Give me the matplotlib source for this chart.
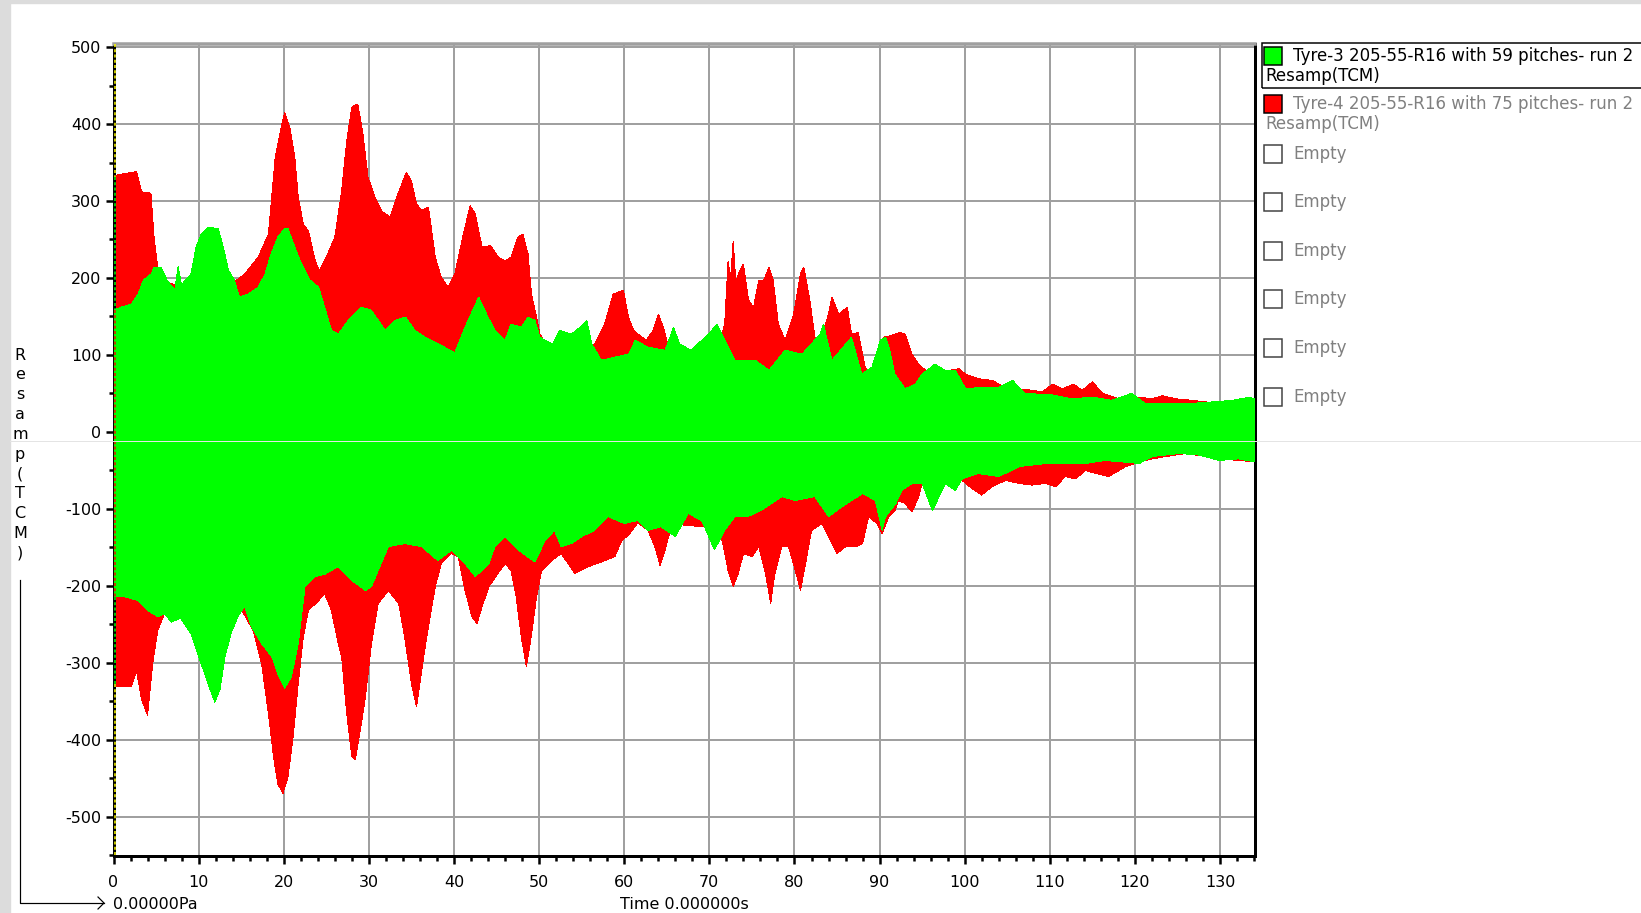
import matplotlib
matplotlib.use("Agg")
import matplotlib.pyplot as plt
from matplotlib.patches import Rectangle
from matplotlib.lines import Line2D
from matplotlib.ticker import MultipleLocator

plt.rcParams["font.family"] = "DejaVu Sans"
plt.rcParams["axes.unicode_minus"] = False

# envelope of tyre 4 (red), top and bottom, time in s
red_top_t = [0.0, 0.1, 1.5, 2.7, 3.3, 4.4, 4.8, 5.2, 5.6, 8.0, 12.0, 14.2, 15.4, 17.0, 18.2, 19.0,
             19.7, 20.1, 20.7, 21.3, 21.7, 22.3, 22.9, 23.7, 24.2, 25.0, 26.0, 26.8, 27.4, 28.0,
             28.7, 29.3, 29.9, 30.7, 31.5, 32.5, 33.4, 34.4, 35.0, 35.6, 36.2, 37.0, 37.8, 38.5,
             39.3, 40.1, 41.1, 41.9, 42.5, 43.3, 44.3, 45.2, 46.0, 46.7, 47.5, 48.1, 48.7, 49.1,
             49.7, 50.1, 51.0, 54.0, 56.5, 57.7, 58.7, 59.9, 60.5, 61.1, 61.6, 62.6, 63.4, 64.0,
             64.6, 65.2, 66.0, 71.0, 71.8, 72.2, 72.5, 72.8, 73.1, 73.4, 74.0, 74.6, 75.2, 75.8,
             76.4, 77.0, 77.5, 78.1, 78.9, 79.9, 80.7, 81.1, 81.8, 82.4, 83.0, 83.4, 84.0, 84.4,
             85.2, 86.2, 86.7, 87.5, 88.3, 89.1, 89.9, 90.5, 91.3, 92.4, 93.0, 93.8, 94.6, 95.4,
             97.0, 99.3, 100.1, 101.6, 103.2, 104.4, 106.4, 107.9, 109.1, 110.3, 111.5, 112.8,
             113.8, 115.0, 116.2, 118.1, 120.5, 122.0, 123.2, 124.8, 126.7, 128.3, 130.0, 131.8,
             134.1]
red_top = [331, 333, 336, 338, 312, 310, 248, 214, 195, 190, 192, 195, 205, 227, 257, 357,
           396, 415, 396, 357, 305, 270, 261, 222, 209, 227, 253, 313, 378, 422,
           426, 387, 331, 305, 287, 279, 309, 337, 326, 296, 288, 292, 227, 201,
           188, 205, 257, 294, 283, 240, 242, 227, 222, 227, 253, 257, 231, 179,
           149, 127, 110, 110, 114, 140, 179, 184, 149, 132, 127, 119, 132, 153,
           136, 110, 100, 105, 140, 222, 200, 248, 195, 205, 218, 171, 162, 197,
           197, 214, 197, 140, 119, 153, 205, 214, 171, 123, 114, 132, 153, 175,
           153, 162, 127, 129, 84, 70, 101, 123, 125, 129, 127, 101, 88, 80,
           78, 82, 75, 69, 67, 60, 56, 54, 52, 62, 56, 62,
           54, 65, 50, 43, 45, 43, 47, 43, 41, 39, 36, 38,
           38]
red_bot_t = [0.0, 0.3, 2.1, 2.7, 3.3, 4.0, 4.6, 5.2, 6.0, 8.0, 12.0, 14.6, 15.2, 16.4, 17.4,
             18.2, 18.8, 19.3, 19.9, 20.5, 21.1, 21.7, 22.3, 22.9, 24.1, 24.8, 25.6, 26.4, 26.8,
             27.4, 28.0, 28.4, 29.0, 29.6, 30.3, 31.1, 32.3, 33.5, 34.2, 35.0, 35.6, 36.2, 36.8,
             37.8, 38.5, 39.7, 40.5, 41.3, 42.1, 42.7, 43.3, 44.1, 44.9, 46.0, 46.7, 47.3, 47.9,
             48.5, 49.1, 49.7, 50.3, 51.5, 52.6, 53.4, 54.2, 55.8, 57.3, 58.9, 59.7, 60.5, 61.6,
             62.8, 63.6, 64.2, 64.8, 65.2, 66.0, 71.0, 71.5, 72.2, 72.8, 73.4, 74.0, 75.0, 75.8,
             76.6, 77.2, 77.7, 78.5, 79.3, 80.1, 80.7, 81.3, 82.0, 83.2, 84.0, 85.0, 86.0, 87.2,
             88.0, 88.7, 89.7, 90.3, 91.1, 91.8, 92.2, 93.0, 93.8, 94.6, 95.0, 96.2, 99.7, 100.9,
             102.0, 103.2, 104.8, 106.4, 107.9, 109.5, 110.7, 111.8, 113.0, 114.2, 115.4, 116.9,
             118.9, 120.5, 122.0, 123.6, 126.0, 128.3, 129.9, 132.2, 134.1]
red_bot = [-327, -331, -331, -310, -348, -368, -301, -258, -236, -230, -225, -223, -234, -258, -301,
           -366, -422, -457, -470, -448, -396, -327, -266, -232, -219, -210, -232, -275, -292,
           -366, -422, -426, -387, -344, -275, -223, -206, -223, -266, -327, -357, -310, -266,
           -201, -171, -158, -162, -206, -240, -249, -227, -201, -188, -171, -180, -214, -266,
           -305, -264, -214, -180, -167, -158, -171, -184, -175, -169, -162, -141, -134, -118,
           -128, -149, -173, -154, -136, -120, -125, -141, -180, -201, -184, -158, -162, -149,
           -184, -223, -184, -149, -149, -180, -206, -171, -128, -119, -136, -158, -149, -149,
           -145, -110, -119, -132, -110, -102, -89, -93, -104, -84, -67, -60, -63, -74,
           -82, -71, -63, -67, -69, -67, -71, -58, -61, -50, -54, -58,
           -45, -39, -35, -32, -28, -32, -35, -37, -39]

# envelope of tyre 3 (green), top and bottom
green_top_t = [0.0, 0.9, 2.1, 2.9, 3.5, 4.4, 4.8, 5.6, 6.3, 7.2, 7.6, 8.0, 8.4, 9.1, 9.7, 10.3,
               11.1, 12.3, 12.9, 13.5, 14.2, 14.8, 15.8, 17.0, 17.8, 18.5, 19.3, 20.1, 20.5,
               21.3, 22.1, 23.1, 24.1, 24.7, 25.6, 26.4, 27.6, 29.1, 30.3, 31.9, 33.1, 34.3,
               35.4, 36.6, 38.2, 40.1, 41.3, 42.9, 44.0, 44.8, 46.0, 46.7, 47.9, 48.7, 49.5,
               50.1, 50.7, 51.6, 52.4, 53.8, 54.8, 55.6, 56.2, 57.3, 58.9, 60.5, 61.3, 62.8,
               64.8, 65.8, 66.5, 67.9, 69.1, 69.9, 70.9, 71.8, 73.0, 75.4, 77.0, 78.9, 80.9,
               83.0, 83.4, 84.4, 86.7, 87.9, 89.1, 90.1, 90.7, 91.1, 91.8, 93.0, 94.2, 95.0,
               96.5, 97.7, 98.9, 100.1, 102.0, 104.0, 105.6, 107.1, 110.3, 112.6, 115.0, 117.3,
               119.6, 121.2, 124.0, 126.7, 129.1, 131.5, 133.4, 134.1]
green_top = [158, 162, 166, 179, 197, 205, 214, 214, 197, 184, 215, 190, 197, 205, 240, 257,
             266, 264, 240, 210, 197, 175, 179, 188, 205, 231, 253, 264, 264,
             240, 218, 197, 188, 166, 132, 127, 145, 162, 158, 132, 145, 149,
             132, 123, 114, 103, 136, 175, 149, 132, 119, 140, 136, 149, 145,
             123, 119, 114, 132, 127, 136, 145, 114, 93, 97, 101, 119, 110,
             106, 136, 114, 106, 119, 127, 140, 119, 93, 93, 80, 106, 101,
             127, 140, 93, 123, 75, 84, 119, 123, 110, 75, 56, 62, 75,
             88, 80, 80, 56, 58, 58, 67, 50, 48, 43, 45, 41,
             50, 37, 37, 37, 39, 41, 45, 43]
green_bot_t = [0.0, 1.3, 2.9, 4.0, 5.2, 6.0, 6.8, 7.9, 9.1, 10.3, 11.1, 11.9, 12.5, 13.1, 13.8,
               14.6, 15.4, 16.2, 17.4, 18.6, 19.3, 20.1, 20.9, 21.7, 22.5, 23.6, 24.8, 26.4,
               28.0, 29.6, 30.3, 31.1, 32.3, 34.2, 36.2, 38.1, 39.7, 41.3, 42.5, 44.1, 44.8,
               46.0, 47.5, 49.5, 50.7, 51.8, 52.6, 53.8, 55.0, 56.5, 58.1, 60.0, 61.6, 62.8,
               64.3, 66.0, 67.5, 69.1, 70.6, 71.8, 73.0, 74.5, 76.1, 78.5, 80.1, 82.4, 84.0,
               85.6, 88.0, 89.5, 90.3, 90.7, 91.9, 92.6, 93.8, 95.0, 96.2, 97.0, 97.7, 98.9,
               99.7, 101.6, 104.0, 106.4, 109.5, 112.6, 114.2, 116.5, 120.5, 122.0, 125.2,
               127.5, 129.9, 132.2, 134.1]
green_bot = [-214, -214, -219, -232, -240, -236, -247, -242, -262, -301, -327, -351, -335, -292, -262,
             -240, -227, -253, -275, -292, -314, -333, -318, -275, -201, -188, -185, -175,
             -193, -206, -201, -180, -149, -145, -149, -167, -154, -171, -188, -171, -149,
             -136, -153, -169, -141, -128, -149, -145, -136, -128, -110, -119, -115, -128,
             -123, -136, -106, -115, -153, -128, -110, -110, -102, -84, -89, -84, -110,
             -97, -80, -89, -128, -110, -93, -76, -67, -67, -102, -84, -67, -76,
             -61, -54, -58, -45, -41, -41, -41, -37, -41, -32, -28,
             -30, -37, -35, -39]

legend_names = ["Tyre-3 205-55-R16 with 59 pitches- run 2",
                "Tyre-4 205-55-R16 with 75 pitches- run 2"]
legend_units = "Resamp(TCM)"
y_name = "Resamp(TCM)"

GREEN = "#00ff00"
RED = "#ff0000"
GRID = "#a0a0a0"
PALE = "#808080"

W, H = 1641, 913


def fx(px):
    return px / W


def fy(py):
    return 1 - py / H


def lw(px):
    return px * 72 / 100.


fig = plt.figure(figsize=(W / 100, H / 100), dpi=100, facecolor="white")

# window frame strips
fig.patches.append(Rectangle((0, 0), fx(10), 1, transform=fig.transFigure,
                             color="#dcdcdc", zorder=0))
fig.patches.append(Rectangle((0, fy(3)), 1, 1 - fy(3), transform=fig.transFigure,
                             color="#dcdcdc", zorder=0))

ax = fig.add_axes([fx(113.5), fy(856), fx(1255) - fx(113.5), fy(44) - fy(856)])
ax.set_xlim(0, 134.1)
ax.set_ylim(-551, 504)

# signals: red behind, green in front
ax.fill(red_top_t + red_bot_t[::-1], red_top + red_bot[::-1],
        color=RED, lw=0, zorder=2, antialiased=False)
ax.fill(green_top_t + green_bot_t[::-1], green_top + green_bot[::-1],
        color=GREEN, lw=0, zorder=3, antialiased=False)

# cursor line at the start, colour flips with what it crosses
cx = 0.2
segs = [(504, red_top[0], "#ffff00"), (red_top[0], green_top[0], GREEN),
        (green_top[0], green_bot[0], RED), (green_bot[0], red_bot[0], GREEN),
        (red_bot[0], -551, "#ffff00")]
for y0, y1, c in segs:
    ax.plot([cx, cx], [y0, y1], color=c, lw=lw(1.5), ls=(0, (2, 1.5)), zorder=4)

ax.xaxis.set_major_locator(MultipleLocator(10))
ax.xaxis.set_minor_locator(MultipleLocator(2))
ax.yaxis.set_major_locator(MultipleLocator(100))
ax.yaxis.set_minor_locator(MultipleLocator(50))
ax.grid(True, which="major", color=GRID, lw=lw(2), zorder=1)
ax.set_axisbelow(True)

ax.tick_params(which="major", direction="out", length=lw(8), width=lw(2.5),
               labelsize=11.5, pad=lw(4))
ax.tick_params(which="minor", direction="out", length=lw(5), width=lw(2.5))
ax.tick_params(axis="x", which="major", pad=lw(11))

for side in ["left", "bottom", "right"]:
    ax.spines[side].set_color("black")
    ax.spines[side].set_linewidth(lw(3))
ax.spines["top"].set_color(GRID)
ax.spines["top"].set_linewidth(lw(3.5))

# stacked y title
for i, ch in enumerate(y_name):
    fig.text(fx(20), fy(355 + i * 19.8), ch, ha="center", va="center", fontsize=11.5)

# axis origin arrow
fig.add_artist(Line2D([fx(20), fx(20), fx(104)], [fy(580), fy(903), fy(903)],
                      color="black", lw=lw(1.2), transform=fig.transFigure))
fig.add_artist(Line2D([fx(98), fx(104), fx(98)], [fy(897), fy(903), fy(909)],
                      color="black", lw=lw(1.2), transform=fig.transFigure))
fig.text(fx(113), fy(904), "0.00000Pa", ha="left", va="center", fontsize=11.5)
fig.text(fx(684), fy(904), "Time 0.000000s", ha="center", va="center", fontsize=11.5)

# thin light line across the window
fig.add_artist(Line2D([fx(10), 1], [fy(441), fy(441)], color="#e4e4e4",
                      lw=lw(1), transform=fig.transFigure, zorder=10))

# legend panel
fig.patches.append(Rectangle((fx(1262), fy(88)), fx(1700) - fx(1262), fy(43) - fy(88),
                             transform=fig.transFigure, fill=False,
                             edgecolor="black", lw=lw(1.5), zorder=5))
rows = [56, 104, 154, 202, 251, 299, 348, 397]
swatch = [GREEN, RED] + ["white"] * 6
for k, yc in enumerate(rows):
    edge = "black" if k < 2 else "#404040"
    fig.patches.append(Rectangle((fx(1264), fy(yc + 9)), fx(18), 18 / H,
                                 transform=fig.transFigure, facecolor=swatch[k],
                                 edgecolor=edge, lw=lw(1.5), zorder=6))
    if k < 2:
        col = "black" if k == 0 else PALE
        fig.text(fx(1293), fy(yc), legend_names[k], ha="left", va="center",
                 fontsize=12, color=col)
        fig.text(fx(1265), fy(yc + 20), legend_units, ha="left", va="center",
                 fontsize=12, color=col)
    else:
        fig.text(fx(1293), fy(yc), "Empty", ha="left", va="center",
                 fontsize=12, color=PALE)

fig.savefig("out.png", dpi=100, facecolor="white")
